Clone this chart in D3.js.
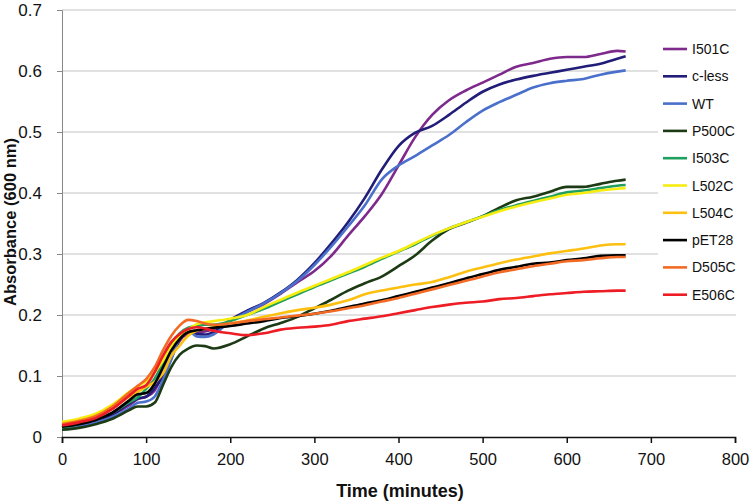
<!DOCTYPE html>
<html><head><meta charset="utf-8">
<script src="https://cdn.jsdelivr.net/npm/d3@7"></script>
<style>body{margin:0;background:#fff;} svg{display:block;font-family:"Liberation Sans",Arial,sans-serif;}</style>
</head><body>
<svg id="c" width="750" height="502"></svg>
<script>
const times = [0,20,40,60,80,90,100,110,120,130,140,150,160,170,180,200,220,240,260,280,300,320,340,360,380,400,420,440,460,480,500,520,540,560,580,600,620,640,660,670];
const seriesNames = ["I501C","c-less","WT","P500C","I503C","L502C","L504C","pET28","D505C","E506C"];
const seriesColors = ["#7e2a8c","#221d78","#4a70cc","#1c3a14","#20a05e","#f7ec10","#fdc010","#000000","#f26a24","#ee1c24"];
const I501C = [0.016,0.020,0.027,0.037,0.052,0.062,0.066,0.076,0.103,0.131,0.158,0.169,0.172,0.173,0.177,0.190,0.205,0.218,0.235,0.254,0.272,0.297,0.330,0.362,0.398,0.445,0.492,0.528,0.552,0.568,0.581,0.594,0.607,0.613,0.620,0.623,0.623,0.628,0.633,0.632];
const cLess = [0.016,0.020,0.027,0.037,0.055,0.063,0.066,0.080,0.100,0.130,0.160,0.172,0.169,0.168,0.172,0.192,0.207,0.220,0.237,0.258,0.285,0.317,0.352,0.392,0.438,0.477,0.499,0.510,0.528,0.548,0.566,0.578,0.586,0.592,0.597,0.602,0.607,0.612,0.620,0.624];
const WT = [0.015,0.018,0.024,0.033,0.047,0.056,0.058,0.066,0.093,0.127,0.163,0.174,0.165,0.164,0.168,0.190,0.205,0.219,0.236,0.256,0.282,0.312,0.345,0.380,0.422,0.445,0.461,0.478,0.495,0.516,0.535,0.549,0.561,0.573,0.580,0.584,0.587,0.594,0.599,0.601];
const P500C = [0.012,0.015,0.021,0.030,0.044,0.050,0.050,0.056,0.085,0.115,0.135,0.145,0.150,0.149,0.145,0.152,0.165,0.178,0.187,0.197,0.211,0.225,0.240,0.252,0.263,0.280,0.298,0.322,0.341,0.351,0.362,0.376,0.388,0.394,0.402,0.410,0.410,0.415,0.420,0.422];
const I503C = [0.016,0.021,0.029,0.040,0.057,0.065,0.079,0.095,0.122,0.153,0.170,0.179,0.182,0.184,0.184,0.190,0.200,0.210,0.222,0.234,0.246,0.257,0.268,0.279,0.292,0.304,0.316,0.330,0.342,0.352,0.362,0.372,0.380,0.387,0.394,0.401,0.404,0.408,0.412,0.413];
const L502C = [0.025,0.030,0.038,0.053,0.074,0.083,0.091,0.106,0.125,0.148,0.165,0.176,0.185,0.188,0.190,0.194,0.200,0.213,0.225,0.237,0.248,0.259,0.270,0.282,0.294,0.305,0.318,0.331,0.342,0.352,0.361,0.370,0.378,0.385,0.391,0.397,0.400,0.404,0.407,0.408];
const L504C = [0.022,0.027,0.035,0.048,0.066,0.074,0.082,0.090,0.104,0.133,0.150,0.166,0.174,0.177,0.180,0.186,0.191,0.197,0.203,0.208,0.212,0.217,0.224,0.234,0.240,0.245,0.250,0.254,0.262,0.271,0.278,0.285,0.291,0.296,0.301,0.305,0.309,0.314,0.316,0.316];
const pET28 = [0.017,0.021,0.028,0.040,0.060,0.070,0.072,0.087,0.114,0.142,0.161,0.172,0.175,0.177,0.179,0.182,0.186,0.190,0.195,0.198,0.202,0.207,0.213,0.219,0.224,0.231,0.238,0.245,0.252,0.260,0.267,0.274,0.279,0.284,0.286,0.290,0.293,0.297,0.298,0.298];
const D505C = [0.021,0.026,0.034,0.050,0.073,0.084,0.095,0.114,0.142,0.166,0.183,0.192,0.190,0.186,0.184,0.186,0.190,0.193,0.196,0.199,0.202,0.206,0.211,0.216,0.222,0.228,0.235,0.242,0.249,0.256,0.263,0.270,0.275,0.280,0.284,0.288,0.290,0.293,0.295,0.295];
const E506C = [0.019,0.024,0.031,0.046,0.068,0.079,0.085,0.106,0.133,0.156,0.169,0.177,0.180,0.178,0.174,0.170,0.167,0.170,0.176,0.179,0.181,0.184,0.190,0.194,0.198,0.203,0.208,0.213,0.217,0.220,0.222,0.226,0.228,0.231,0.234,0.236,0.238,0.239,0.240,0.240];
const seriesValues = [I501C,cLess,WT,P500C,I503C,L502C,L504C,pET28,D505C,E506C];
const xTicks = [0,100,200,300,400,500,600,700,800];
const yTicks = [0,0.1,0.2,0.3,0.4,0.5,0.6,0.7];

const svg = d3.select("#c");
const x = d3.scaleLinear().domain([0,800]).range([62,735]);
const y = d3.scaleLinear().domain([0,0.7]).range([437,10]);

// gridlines
svg.append("g").selectAll("line").data(yTicks.filter(d=>d>0)).join("line")
  .attr("x1",62).attr("x2",736).attr("y1",d=>y(d)).attr("y2",d=>y(d))
  .attr("stroke","#c4c4c4").attr("stroke-width",1.2);

// legend background (covers gridlines)
svg.append("rect").attr("x",658).attr("y",22).attr("width",84).attr("height",286).attr("fill","#fff");

// axes
const yAxis = svg.append("g").attr("transform","translate(62,0)")
  .call(d3.axisLeft(y).tickValues(yTicks).tickFormat(d=>d===0?"0":d3.format(".1f")(d)).tickSize(5).tickPadding(15));
yAxis.select(".domain").attr("stroke","#888");
yAxis.selectAll(".tick line").attr("stroke","#888");
yAxis.selectAll("text").attr("font-size",17).attr("fill","#111").attr("font-family","Liberation Sans, Arial, sans-serif");

const xAxis = svg.append("g").attr("transform","translate(0,437)")
  .call(d3.axisBottom(x).tickValues(xTicks).tickSize(6).tickPadding(10));
xAxis.select(".domain").attr("stroke","#111").attr("stroke-width",1.5);
xAxis.selectAll(".tick line").attr("stroke","#111").attr("stroke-width",1.5);
xAxis.selectAll("text").attr("font-size",16.5).attr("fill","#111").attr("font-family","Liberation Sans, Arial, sans-serif");

// lines
const line = d3.line().x((d,i)=>x(times[i])).y(d=>y(d)).curve(d3.curveMonotoneX);
svg.append("g").selectAll("path").data(seriesValues).join("path")
  .attr("d",d=>line(d)).attr("fill","none")
  .attr("stroke",(d,i)=>seriesColors[i]).attr("stroke-width",2.6).attr("stroke-linejoin","round");

// legend
const lg = svg.append("g").selectAll("g").data(seriesNames).join("g")
  .attr("transform",(d,i)=>`translate(663,${49+i*27.3})`);
lg.append("line").attr("x1",0).attr("x2",24).attr("stroke",(d,i)=>seriesColors[i]).attr("stroke-width",2.6);
lg.append("text").attr("x",29).attr("dy","0.36em").attr("font-size",14).attr("fill","#111").text(d=>d);

// axis titles
svg.append("text").attr("x",400).attr("y",497).attr("text-anchor","middle")
  .attr("font-size",18).attr("font-weight","bold").attr("fill","#111").text("Time (minutes)");
svg.append("text").attr("transform","translate(10,222) rotate(-90)").attr("text-anchor","middle")
  .attr("dy","0.35em").attr("font-size",16.5).attr("font-weight","bold").attr("fill","#111").text("Absorbance (600 nm)");
</script>
</body></html>
